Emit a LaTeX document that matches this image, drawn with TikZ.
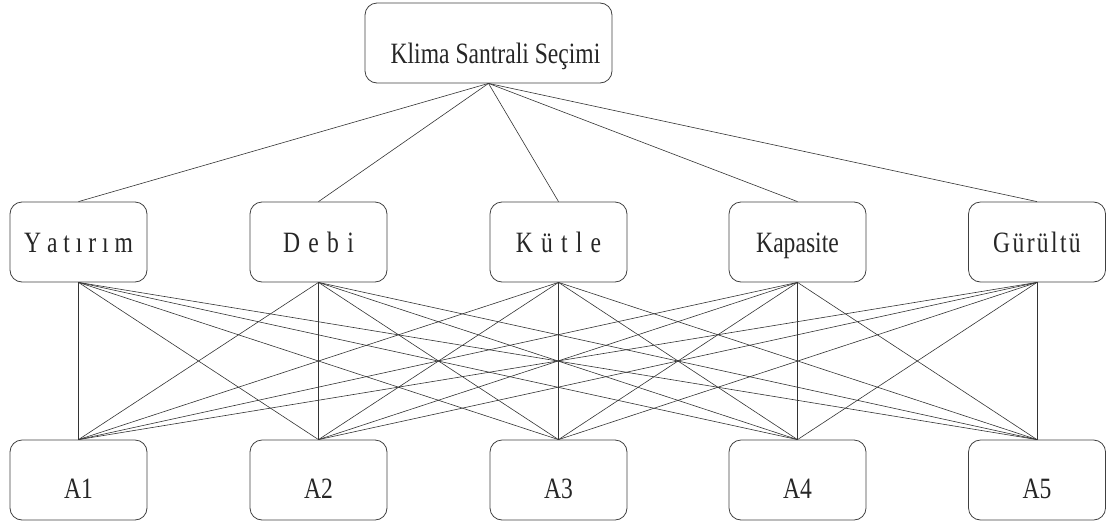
\documentclass[tikz,border=0pt]{standalone}
\usepackage{fontspec}
\setmainfont{Liberation Serif}[FakeStretch=0.8]
\begin{document}
\begin{tikzpicture}[x=1pt,y=-1pt,
  every node/.style={font=\fontsize{29.5pt}{32pt}\selectfont, text=black!85},
  box/.style={draw=black!75, line width=0.8pt, rounded corners=12pt,
    minimum width=137pt, minimum height=80pt, inner sep=0pt, text depth=0pt},
  goalbox/.style={box, minimum width=247pt, text height=40pt},
  critbox/.style={box, text height=20pt},
  altbox/.style={box, text height=36pt},
  link/.style={draw=black!80, line width=0.6pt}]
\useasboundingbox (0,0) rectangle (1113,525);

% goal
\node[goalbox] (goal) at (488.5,43) {\hspace*{14pt}Klima Santrali Seçimi};

% criteria
\node[critbox] (c1) at (78.5,242)  {Y a t ı r ı m};
\node[critbox] (c2) at (318.5,242) {\addfontfeature{LetterSpace=8}D e b i};
\node[critbox] (c3) at (558.5,242) {\addfontfeature{LetterSpace=8}K ü t l e};
\node[critbox] (c4) at (797.5,242) {Kapasite};
\node[critbox] (c5) at (1037,242)  {\addfontfeature{LetterSpace=8}Gürültü};

% alternatives
\node[altbox] (a1) at (78.5,480)  {A1};
\node[altbox] (a2) at (318.5,480) {A2};
\node[altbox] (a3) at (558.5,480) {A3};
\node[altbox] (a4) at (797.5,480) {A4};
\node[altbox] (a5) at (1037,480)  {A5};

% goal to criteria
\foreach \c in {c1,c2,c3,c4,c5}
  \draw[link] (goal.south) -- (\c.north);

% every criterion to every alternative
\foreach \c in {c1,c2,c3,c4,c5}
  \foreach \a in {a1,a2,a3,a4,a5}
    \draw[link] (\c.south) -- (\a.north);
\end{tikzpicture}
\end{document}
